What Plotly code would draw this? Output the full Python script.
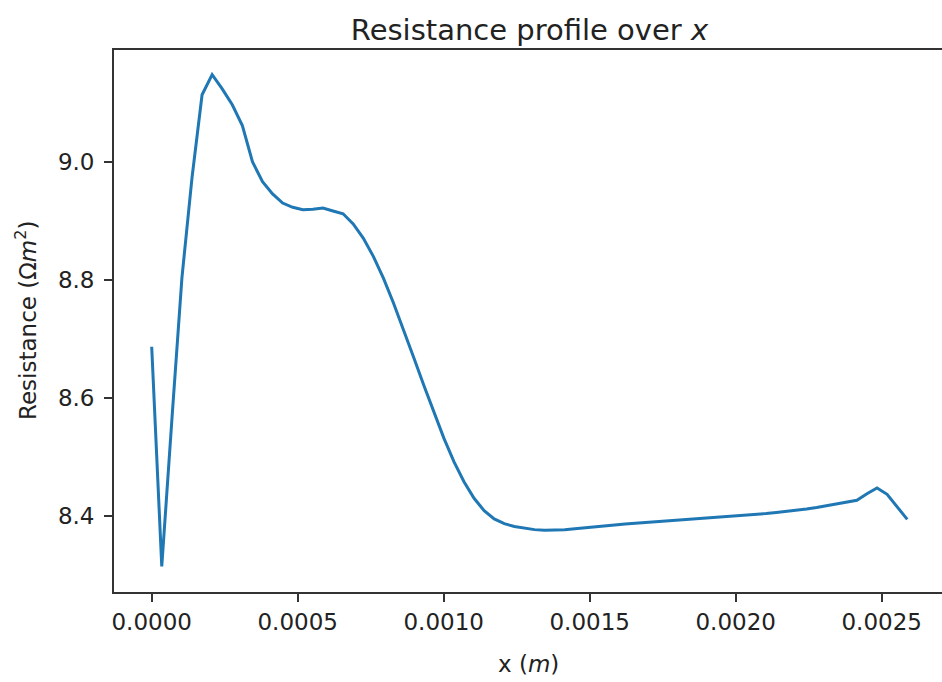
import plotly.graph_objects as go

# Sample spacing and values
dx = 0.0000345
resistance = [
    8.687, 8.3146, 8.5625, 8.8036, 8.973, 9.114, 9.148, 9.124, 9.097, 9.0616,
    9.0005, 8.9666, 8.946, 8.9304, 8.9233, 8.919, 8.920, 8.922, 8.917, 8.9122,
    8.8951, 8.8711, 8.8401, 8.8031, 8.7611, 8.7161, 8.6691, 8.6221, 8.5761, 8.5321,
    8.4921, 8.4581, 8.4301, 8.4091, 8.3951, 8.3871, 8.3822, 8.3791, 8.3770, 8.3759,
    8.3757, 8.3766, 8.3783, 8.3802, 8.3821, 8.3838, 8.3853, 8.3866, 8.3878, 8.3890,
    8.3902, 8.3914, 8.3926, 8.3938, 8.3950, 8.3962, 8.3974, 8.3986, 8.3998, 8.4012,
    8.4027, 8.4043, 8.4060, 8.4078, 8.4098, 8.4120, 8.4145, 8.4173, 8.4203, 8.4235,
    8.4267, 8.4377, 8.4475, 8.4368, 8.4148, 8.3944,
]
x_vals = [i * dx for i in range(len(resistance))]

x_ticks = [0.0, 0.0005, 0.0010, 0.0015, 0.0020, 0.0025]
x_tick_text = ["0.0000", "0.0005", "0.0010", "0.0015", "0.0020", "0.0025"]
y_ticks = [8.4, 8.6, 8.8, 9.0]
y_tick_text = ["8.4", "8.6", "8.8", "9.0"]

W, H = 942, 682
L, R, T, B = 114, 0, 50, 90

FONT = "DejaVu Sans"
fig = go.Figure()
fig.add_trace(go.Scatter(
    x=x_vals, y=resistance, mode="lines",
    line=dict(color="#1f77b4", width=3),
    showlegend=False, hoverinfo="skip",
))

axis_common = dict(
    showgrid=False, zeroline=False, showline=True, linecolor="#333333",
    linewidth=1.8, ticks="outside", ticklen=8, tickwidth=1.8, tickcolor="#333333",
    tickfont=dict(family=FONT, size=23, color="#222222"),
)
fig.update_xaxes(
    range=[-0.0001291, 0.0027065], tickvals=x_ticks, ticktext=x_tick_text,
    mirror=True, **axis_common,
)
fig.update_yaxes(
    range=[8.2713, 9.1898], tickvals=y_ticks, ticktext=y_tick_text,
    mirror=False, ticklabelstandoff=5, **axis_common,
)

plot_h = H - T - B
fig.update_layout(
    width=W, height=H,
    margin=dict(l=L, r=R, t=T, b=B, pad=0),
    paper_bgcolor="white", plot_bgcolor="white",
    title=dict(
        text="Resistance profile over <i>x</i>",
        x=(114 + 945) / 2 / W, xanchor="center",
        y=1 - 30 / H, yanchor="middle", yref="container",
        font=dict(family=FONT, size=29, color="#222222"),
    ),
    annotations=[
        dict(text="x (<i>m</i>)", xref="paper", yref="paper",
             x=(528 - L) / (W - L), y=(H - B - 664) / plot_h,
             xanchor="center", yanchor="middle", showarrow=False,
             font=dict(family=FONT, size=23, color="#222222")),
        dict(text="Resistance (Ω<i>m</i><sup>2</sup>)", xref="paper", yref="paper",
             x=(26 - L) / (W - L), y=0.5, textangle=-90,
             xanchor="center", yanchor="middle", showarrow=False,
             font=dict(family=FONT, size=23, color="#222222")),
    ],
)

fig.write_html("out.html")
